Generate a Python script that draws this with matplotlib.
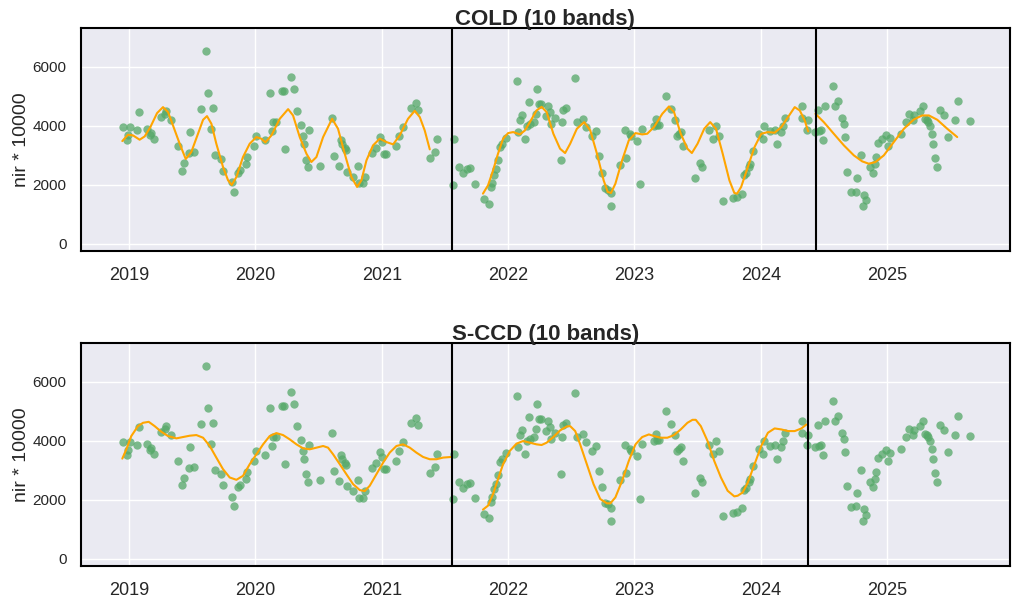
import matplotlib
matplotlib.use("Agg")
import matplotlib.pyplot as plt
import numpy as np
import seaborn as sns

# observations (decimal year, nir * 10000), same in both panels
obs_t = [2018.953, 2018.992, 2018.987, 2019.011, 2019.063, 2019.079, 2019.142, 2019.172, 2019.164, 2019.198,
         2019.253, 2019.290, 2019.282, 2019.335, 2019.388, 2019.435, 2019.420, 2019.475, 2019.515, 2019.483,
         2019.570, 2019.607, 2019.625, 2019.665, 2019.649, 2019.681, 2019.731, 2019.744, 2019.818, 2019.831,
         2019.865, 2019.876, 2019.923, 2019.937, 2019.989, 2020.008, 2020.077, 2020.116, 2020.135, 2020.142,
         2020.166, 2020.214, 2020.230, 2020.237, 2020.282, 2020.306, 2020.330, 2020.361, 2020.377, 2020.388,
         2020.398, 2020.417, 2020.425, 2020.512, 2020.607, 2020.623, 2020.662, 2020.678, 2020.686, 2020.707,
         2020.718, 2020.723, 2020.773, 2020.813, 2020.821, 2020.850, 2020.868, 2020.923, 2020.958, 2020.984,
         2021.003, 2021.021, 2021.037, 2021.113, 2021.135, 2021.166, 2021.230, 2021.272, 2021.290, 2021.383,
         2021.425, 2021.438, 2021.562, 2021.573,
         2021.615, 2021.642, 2021.674, 2021.700, 2021.737, 2021.806, 2021.849, 2021.862, 2021.873, 2021.889,
         2021.907, 2021.923, 2021.939, 2021.955, 2021.984, 2022.072, 2022.082, 2022.093, 2022.111, 2022.135,
         2022.151, 2022.172, 2022.207, 2022.167, 2022.220, 2022.231, 2022.244, 2022.260, 2022.300, 2022.318,
         2022.332, 2022.340, 2022.371, 2022.416, 2022.424, 2022.438, 2022.456, 2022.533, 2022.549, 2022.592,
         2022.618, 2022.666, 2022.698, 2022.719, 2022.740, 2022.767, 2022.793, 2022.814, 2022.812, 2022.889,
         2022.931, 2022.923, 2022.963, 2022.973, 2023.021, 2023.042, 2023.058, 2023.154, 2023.167, 2023.180,
         2023.196, 2023.252, 2023.289, 2023.321, 2023.340, 2023.355, 2023.371, 2023.385, 2023.477, 2023.517,
         2023.536, 2023.592, 2023.623, 2023.647, 2023.666, 2023.703, 2023.782, 2023.809, 2023.854, 2023.870,
         2023.886, 2023.905, 2023.918, 2023.934, 2023.984, 2024.019, 2024.027, 2024.072, 2024.109, 2024.125,
         2024.162, 2024.175, 2024.194, 2024.324, 2024.329, 2024.363, 2024.374,
         2024.432, 2024.458, 2024.477, 2024.450, 2024.490, 2024.506, 2024.569, 2024.585, 2024.609, 2024.641,
         2024.657, 2024.664, 2024.680, 2024.717, 2024.751, 2024.759, 2024.791, 2024.815, 2024.833, 2024.807,
         2024.862, 2024.886, 2024.902, 2024.910, 2024.926, 2024.955, 2024.994, 2025.021, 2025.010, 2025.108,
         2025.145, 2025.171, 2025.203, 2025.214, 2025.256, 2025.282, 2025.301, 2025.311, 2025.324, 2025.338,
         2025.353, 2025.361, 2025.377, 2025.393, 2025.417, 2025.449, 2025.480, 2025.536, 2025.560, 2025.655]
obs_v = [3970, 3677, 3531, 3970, 3869, 4456, 3903, 3756, 3677, 3564,
         4298, 4501, 4399, 4207, 3328, 2752, 2482, 3091, 3125, 3801,
         4580, 6543, 5099, 4614, 3903, 3023, 2865, 2482, 2098, 1771,
         2414, 2504, 2718, 2955, 3328, 3643, 3508, 5099, 3835, 4128,
         4128, 5189, 5189, 3226, 5663, 5256, 4489, 4038, 3643, 3395,
         2854, 2594, 3869, 2651, 4275, 2967, 2628, 3531, 3373, 3249,
         3192, 2448, 2279, 2651, 2053, 2053, 2279, 3091, 3249, 3610,
         3452, 3034, 3034, 3305, 3666, 3970, 4591, 4760, 4546, 2921,
         3125, 3564, 2008, 3564,
         2594, 2403, 2527, 2561, 2042, 1512, 1365, 1929, 2076, 2346,
         2527, 2831, 3271, 3395, 3598, 5527, 3801, 4185, 4377, 3564,
         3982, 4050, 4117, 4794, 4388, 5256, 4749, 4749, 4320, 4681,
         4467, 4050, 4253, 2854, 4140, 4546, 4614, 5629, 4140, 4241,
         3959, 3666, 3813, 2989, 2414, 1895, 1839, 1726, 1275, 2662,
         2921, 3869, 3734, 3655, 3474, 2019, 3903, 3982, 4219, 4016,
         4038, 5020, 4580, 4207, 3643, 3711, 3779, 3328, 2222, 2752,
         2594, 3869, 3542, 3982, 3643, 1444, 1545, 1590, 1703, 2335,
         2391, 2606, 2718, 3136, 3734, 3542, 4004, 3824, 3846, 3395,
         3801, 3982, 4275, 4659, 4275, 3858, 4185,
         3779, 3824, 3869, 4523, 3508, 4681, 5358, 4681, 4850, 4253,
         4061, 3610, 2448, 1748, 1771, 2222, 3000, 1669, 1478, 1275,
         2594, 2414, 2696, 2932, 3429, 3542, 3677, 3576, 3305, 3734,
         4140, 4411, 4207, 4366, 4489, 4659, 4230, 4185, 4128, 3993,
         3734, 3395, 2921, 2594, 4523, 4377, 3610, 4185, 4828, 4151]

# COLD fitted segments
cold_t1 = [2018.947, 2018.992, 2019.032, 2019.084, 2019.124, 2019.169, 2019.222, 2019.269, 2019.309, 2019.348,
           2019.401, 2019.449, 2019.493, 2019.546, 2019.586, 2019.617, 2019.652, 2019.691, 2019.744, 2019.784,
           2019.813, 2019.850, 2019.902, 2019.955, 2020.008, 2020.047, 2020.079, 2020.127, 2020.193, 2020.259,
           2020.298, 2020.351, 2020.404, 2020.443, 2020.483, 2020.536, 2020.607, 2020.654, 2020.707, 2020.760,
           2020.805, 2020.839, 2020.879, 2020.931, 2020.984, 2021.037, 2021.090, 2021.142, 2021.208, 2021.261,
           2021.301, 2021.340, 2021.380]
cold_v1 = [3486, 3700, 3677, 3531, 3643, 3959, 4433, 4636, 4467, 4016,
           3395, 2876, 3113, 3734, 4207, 4332, 4072, 3395, 2606, 2154,
           1997, 2267, 2944, 3395, 3621, 3564, 3440, 3677, 4241, 4568,
           4354, 3621, 3057, 2775, 2944, 3621, 4241, 3903, 3057, 2267,
           1929, 2154, 2831, 3339, 3564, 3452, 3373, 3677, 4241, 4512,
           4298, 3846, 3204]
cold_t2 = [2021.801, 2021.841, 2021.881, 2021.920, 2021.960, 2022.000, 2022.040, 2022.093, 2022.133, 2022.172,
           2022.225, 2022.265, 2022.305, 2022.358, 2022.411, 2022.451, 2022.491, 2022.544, 2022.602, 2022.650,
           2022.703, 2022.756, 2022.788, 2022.814, 2022.849, 2022.902, 2022.955, 2023.008, 2023.061, 2023.101,
           2023.154, 2023.220, 2023.273, 2023.313, 2023.366, 2023.419, 2023.454, 2023.499, 2023.552, 2023.599,
           2023.645, 2023.698, 2023.751, 2023.790, 2023.812, 2023.844, 2023.897, 2023.950, 2024.003, 2024.056,
           2024.109, 2024.162, 2024.215, 2024.268, 2024.308, 2024.347, 2024.374]
cold_v2 = [1703, 1985, 2493, 3057, 3564, 3756, 3790, 3711, 3846, 4128,
           4523, 4647, 4467, 3734, 3226, 3079, 3395, 3903, 4128, 3846,
           3057, 2154, 1760, 1726, 2042, 2831, 3508, 3756, 3711, 3734,
           3959, 4410, 4659, 4467, 3734, 3226, 3079, 3395, 3903, 4128,
           3903, 3057, 2154, 1726, 1703, 1929, 2606, 3282, 3734, 3790,
           3768, 3959, 4298, 4636, 4523, 4185, 3813]
cold_t3 = [2024.432, 2024.498, 2024.577, 2024.657, 2024.736, 2024.802, 2024.854, 2024.907, 2024.973, 2025.052,
           2025.132, 2025.211, 2025.277, 2025.330, 2025.396, 2025.475, 2025.554]
cold_v3 = [4410, 4128, 3734, 3339, 3000, 2797, 2718, 2775, 3000, 3452,
           3903, 4219, 4354, 4354, 4207, 3903, 3621]
cold_breaks = [2021.553, 2024.44]

# S-CCD fitted segments
sccd_t1 = [2018.947, 2018.979, 2019.018, 2019.071, 2019.111, 2019.156, 2019.203, 2019.256, 2019.309, 2019.375,
           2019.427, 2019.480, 2019.533, 2019.586, 2019.639, 2019.691, 2019.744, 2019.797, 2019.850, 2019.902,
           2019.955, 2020.008, 2020.061, 2020.113, 2020.166, 2020.219, 2020.272, 2020.325, 2020.377, 2020.430,
           2020.483, 2020.536, 2020.575, 2020.615, 2020.668, 2020.720, 2020.773, 2020.826, 2020.865, 2020.905,
           2020.958, 2021.011, 2021.063, 2021.116, 2021.169, 2021.222, 2021.274, 2021.327, 2021.380, 2021.433,
           2021.485, 2021.551]
sccd_v1 = [3393, 3708, 4157, 4494, 4607, 4640, 4494, 4303, 4157, 4079,
           4124, 4169, 4191, 4101, 3820, 3427, 3034, 2753, 2674, 2809,
           3202, 3539, 3876, 4157, 4258, 4191, 4045, 3876, 3742, 3708,
           3764, 3820, 3764, 3539, 3202, 2865, 2528, 2326, 2292, 2472,
           2865, 3258, 3596, 3820, 3876, 3764, 3596, 3449, 3371, 3371,
           3427, 3449]
sccd_t2 = [2021.801, 2021.841, 2021.881, 2021.920, 2021.960, 2022.013, 2022.066, 2022.119, 2022.172, 2022.225,
           2022.265, 2022.305, 2022.358, 2022.411, 2022.464, 2022.491, 2022.531, 2022.570, 2022.623, 2022.676,
           2022.729, 2022.782, 2022.809, 2022.849, 2022.902, 2022.955, 2023.008, 2023.061, 2023.114, 2023.154,
           2023.207, 2023.260, 2023.313, 2023.366, 2023.419, 2023.459, 2023.485, 2023.525, 2023.578, 2023.631,
           2023.684, 2023.737, 2023.790, 2023.817, 2023.857, 2023.897, 2023.950, 2024.003, 2024.056, 2024.109,
           2024.162, 2024.215, 2024.268, 2024.321, 2024.361]
sccd_v2 = [1663, 1798, 2191, 2697, 3202, 3652, 3899, 3989, 3933, 3876,
           3854, 3933, 4124, 4348, 4483, 4494, 4326, 3876, 3202, 2528,
           2022, 1876, 1876, 2079, 2640, 3315, 3876, 4124, 4213, 4157,
           4101, 4101, 4191, 4382, 4607, 4708, 4708, 4494, 3989, 3315,
           2753, 2303, 2112, 2135, 2247, 2584, 3202, 3820, 4270, 4416,
           4382, 4326, 4326, 4416, 4551]
sccd_breaks = [2021.553, 2024.37]

years = [2019, 2020, 2021, 2022, 2023, 2024, 2025]

sns.set_theme(style="darkgrid")
plt.rcParams['font.family'] = ['Liberation Sans', 'DejaVu Sans']
plt.rcParams['axes.edgecolor'] = 'black'

fig, axes = plt.subplots(2, 1, figsize=(10.2, 6.08), dpi=100)
fig.subplots_adjust(left=0.0794, right=0.990, top=0.954, bottom=0.069, hspace=0.41)

panels = [
    ("COLD (10 bands)", [(cold_t1, cold_v1), (cold_t2, cold_v2), (cold_t3, cold_v3)], cold_breaks),
    ("S-CCD (10 bands)", [(sccd_t1, sccd_v1), (sccd_t2, sccd_v2)], sccd_breaks),
]

for ax, (title, segs, breaks) in zip(axes, panels):
    ax.scatter(obs_t, obs_v, s=36, color='#55a868', alpha=0.75, linewidths=0, zorder=2)
    for t, v in segs:
        ax.plot(t, v, color='orange', lw=1.5, zorder=3)
    for b in breaks:
        ax.axvline(b, color='black', lw=1.5, zorder=4)
    ax.set_title(title, fontsize=16, fontweight='bold', pad=2)
    ax.set_ylabel('nir * 10000', fontsize=14, labelpad=2)
    ax.set_xlim(2018.62, 2025.97)
    ax.set_ylim(-250, 7320)
    ax.set_yticks([0, 2000, 4000, 6000])
    ax.set_xticks(years)
    ax.set_xticklabels([str(y) for y in years])
    ax.tick_params(axis='x', labelsize=13, pad=5.5)
    ax.tick_params(axis='y', labelsize=11, pad=4.5)
    for sp in ax.spines.values():
        sp.set_color('black')
        sp.set_linewidth(1.5)

fig.savefig('out.png', dpi=100)
